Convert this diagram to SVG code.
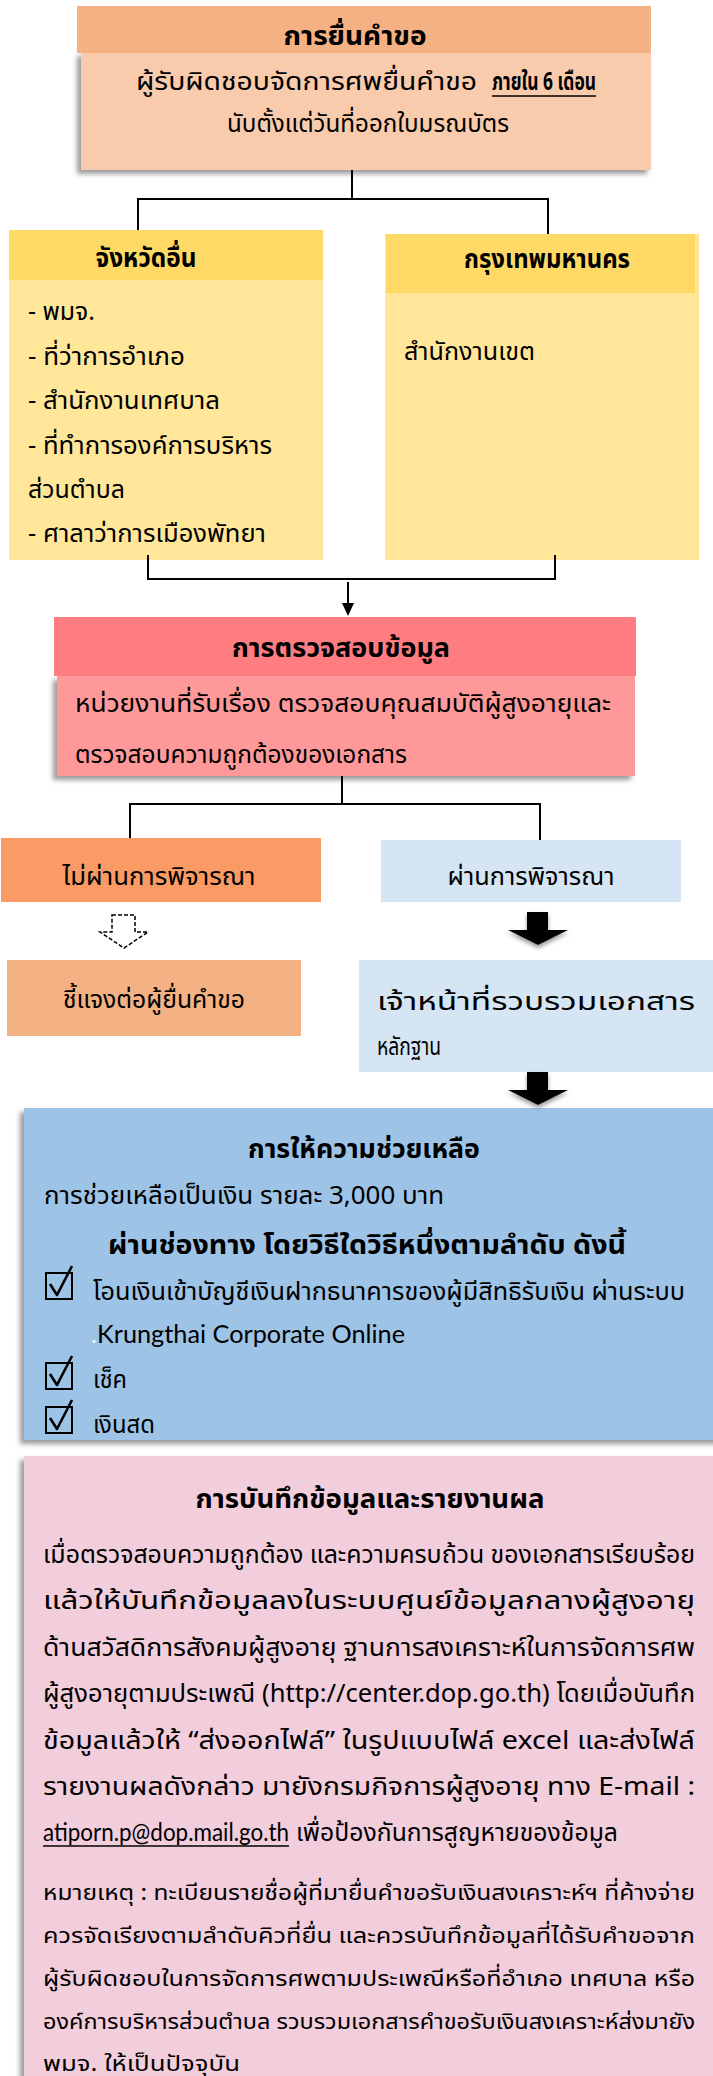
<svg xmlns="http://www.w3.org/2000/svg" width="713" height="2076" viewBox="0 0 713 2076">
<defs>
<style>
text{font-family:"Noto Sans Thai","Noto Sans","DejaVu Sans",sans-serif;fill:#000}
.t{font-size:26px;font-weight:bold}
.r{font-size:25px}
.s{font-size:22px}
.en{font-family:"Lato","Open Sans",sans-serif}
.ln{fill:none;stroke:#000;stroke-width:2}
.cb{fill:none;stroke:#000;stroke-width:2}
.ck{fill:none;stroke:#000;stroke-width:2.6;stroke-linejoin:round}
</style>
<filter id="sh" x="-10%" y="-10%" width="120%" height="125%">
<feDropShadow dx="-4" dy="4" stdDeviation="2.5" flood-color="#6f6f6f" flood-opacity="0.7"/>
</filter>
<filter id="ash" x="-20%" y="-20%" width="140%" height="160%">
<feDropShadow dx="0" dy="3" stdDeviation="2" flood-color="#555" flood-opacity="0.6"/>
</filter>
</defs>

<g id="node-request">
<g filter="url(#sh)">
<rect x="81" y="52" width="570" height="118" fill="#f8cbad"/>
</g>
<rect x="77" y="6" width="574" height="47" fill="#f4b183"/>
<text class="t" x="355" y="45" text-anchor="middle" textLength="143" lengthAdjust="spacingAndGlyphs">การยื่นคำขอ</text>
<text class="r" x="136" y="90" textLength="341" lengthAdjust="spacingAndGlyphs">ผู้รับผิดชอบจัดการศพยื่นคำขอ</text>
<text class="r" x="492" y="90" font-weight="bold" textLength="104" lengthAdjust="spacingAndGlyphs">ภายใน 6 เดือน</text>
<line x1="492" y1="96" x2="596" y2="96" stroke="#000" stroke-width="1.6"/>
<text class="r" x="368" y="132" text-anchor="middle" textLength="282" lengthAdjust="spacingAndGlyphs">นับตั้งแต่วันที่ออกใบมรณบัตร</text>
</g>

<g id="node-province">
<rect x="9" y="230" width="314" height="330" fill="#ffe699"/>
<rect x="9" y="230" width="314" height="50" fill="#ffd966"/>
<text class="t" x="146" y="267" text-anchor="middle" textLength="101" lengthAdjust="spacingAndGlyphs">จังหวัดอื่น</text>
<text class="r" x="28" y="320" textLength="67" lengthAdjust="spacingAndGlyphs">- พมจ.</text>
<text class="r" x="28" y="365" textLength="157" lengthAdjust="spacingAndGlyphs">- ที่ว่าการอำเภอ</text>
<text class="r" x="28" y="409" textLength="192" lengthAdjust="spacingAndGlyphs">- สำนักงานเทศบาล</text>
<text class="r" x="28" y="454" textLength="244" lengthAdjust="spacingAndGlyphs">- ที่ทำการองค์การบริหาร</text>
<text class="r" x="28" y="498" textLength="97" lengthAdjust="spacingAndGlyphs">ส่วนตำบล</text>
<text class="r" x="28" y="542" textLength="238" lengthAdjust="spacingAndGlyphs">- ศาลาว่าการเมืองพัทยา</text>
</g>

<g id="node-bangkok">
<rect x="385" y="234" width="314" height="326" fill="#ffe699"/>
<rect x="386" y="234" width="309" height="59" fill="#ffd966"/>
<text class="t" x="547" y="268" text-anchor="middle" textLength="166" lengthAdjust="spacingAndGlyphs">กรุงเทพมหานคร</text>
<text class="r" x="404" y="360" textLength="131" lengthAdjust="spacingAndGlyphs">สำนักงานเขต</text>
</g>

<g id="node-verify">
<g filter="url(#sh)">
<rect x="57" y="676" width="578" height="100" fill="#ff9999"/>
</g>
<rect x="54" y="617" width="582" height="59" fill="#ff7c80"/>
<text class="t" x="341" y="657" text-anchor="middle" textLength="218" lengthAdjust="spacingAndGlyphs">การตรวจสอบข้อมูล</text>
<text class="r" x="75" y="712" textLength="536" lengthAdjust="spacingAndGlyphs">หน่วยงานที่รับเรื่อง ตรวจสอบคุณสมบัติผู้สูงอายุและ</text>
<text class="r" x="75" y="763" textLength="332" lengthAdjust="spacingAndGlyphs">ตรวจสอบความถูกต้องของเอกสาร</text>
</g>

<g id="node-fail">
<rect x="1" y="838" width="320" height="64" fill="#fa9a64"/>
<text class="r" x="159" y="885" text-anchor="middle" textLength="193" lengthAdjust="spacingAndGlyphs">ไม่ผ่านการพิจารณา</text>
</g>

<g id="node-pass">
<rect x="381" y="840" width="300" height="62" fill="#d5e5f3"/>
<text class="r" x="531" y="885" text-anchor="middle" textLength="167" lengthAdjust="spacingAndGlyphs">ผ่านการพิจารณา</text>
</g>

<g id="node-explain">
<rect x="7" y="960" width="294" height="76" fill="#f4b183"/>
<text class="r" x="154" y="1008" text-anchor="middle" textLength="182" lengthAdjust="spacingAndGlyphs">ชี้แจงต่อผู้ยื่นคำขอ</text>
</g>

<g id="node-collect">
<rect x="359" y="960" width="354" height="112" fill="#d5e5f3"/>
<text class="r" x="377" y="1010" textLength="318" lengthAdjust="spacingAndGlyphs">เจ้าหน้าที่รวบรวมเอกสาร</text>
<text class="r" x="377" y="1055" textLength="64" lengthAdjust="spacingAndGlyphs">หลักฐาน</text>
</g>

<g id="node-assist">
<g filter="url(#sh)">
<rect x="24" y="1108" width="700" height="332" fill="#9dc3e6"/>
</g>
<text class="t" x="364" y="1158" text-anchor="middle" textLength="232" lengthAdjust="spacingAndGlyphs">การให้ความช่วยเหลือ</text>
<text class="r" x="44" y="1204" textLength="400" lengthAdjust="spacingAndGlyphs">การช่วยเหลือเป็นเงิน รายละ 3,000 บาท</text>
<text class="t" x="367" y="1254" text-anchor="middle" textLength="518" lengthAdjust="spacingAndGlyphs">ผ่านช่องทาง โดยวิธีใดวิธีหนึ่งตามลำดับ  ดังนี้</text>
<rect class="cb" x="46" y="1273" width="26" height="26"/>
<path class="ck" d="M50,1284 L57,1295 L72,1266"/>
<text class="r" x="93" y="1300" textLength="592" lengthAdjust="spacingAndGlyphs">โอนเงินเข้าบัญชีเงินฝากธนาคารของผู้มีสิทธิรับเงิน ผ่านระบบ</text>
<text class="r en" x="91" y="1343" textLength="314" lengthAdjust="spacingAndGlyphs"><tspan fill="#e8f0f8">.</tspan>Krungthai Corporate Online</text>
<rect class="cb" x="46" y="1363" width="26" height="26"/>
<path class="ck" d="M50,1374 L57,1385 L72,1356"/>
<text class="r" x="93" y="1388" textLength="34" lengthAdjust="spacingAndGlyphs">เช็ค</text>
<rect class="cb" x="46" y="1407" width="26" height="26"/>
<path class="ck" d="M50,1418 L57,1429 L72,1400"/>
<text class="r" x="93" y="1433" textLength="62" lengthAdjust="spacingAndGlyphs">เงินสด</text>
</g>

<g id="node-record">
<g filter="url(#sh)">
<rect x="24" y="1456" width="700" height="640" fill="#f2cddc"/>
</g>
<text class="t" x="370" y="1508" text-anchor="middle" textLength="349" lengthAdjust="spacingAndGlyphs">การบันทึกข้อมูลและรายงานผล</text>
<text class="r" x="43" y="1563" textLength="652" lengthAdjust="spacingAndGlyphs">เมื่อตรวจสอบความถูกต้อง และความครบถ้วน ของเอกสารเรียบร้อย</text>
<text class="r" x="43" y="1609" textLength="652" lengthAdjust="spacingAndGlyphs">แล้วให้บันทึกข้อมูลลงในระบบศูนย์ข้อมูลกลางผู้สูงอายุ</text>
<text class="r" x="43" y="1656" textLength="652" lengthAdjust="spacingAndGlyphs">ด้านสวัสดิการสังคมผู้สูงอายุ ฐานการสงเคราะห์ในการจัดการศพ</text>
<text class="r" x="43" y="1702" textLength="652" lengthAdjust="spacingAndGlyphs">ผู้สูงอายุตามประเพณี (http://center.dop.go.th) โดยเมื่อบันทึก</text>
<text class="r" x="43" y="1749" textLength="652" lengthAdjust="spacingAndGlyphs">ข้อมูลแล้วให้ “ส่งออกไฟล์”  ในรูปแบบไฟล์ excel และส่งไฟล์</text>
<text class="r" x="43" y="1795" textLength="652" lengthAdjust="spacingAndGlyphs">รายงานผลดังกล่าว มายังกรมกิจการผู้สูงอายุ ทาง E-mail :</text>
<text class="r en" x="43" y="1841" textLength="246" lengthAdjust="spacingAndGlyphs">atiporn.p@dop.mail.go.th</text>
<line x1="43" y1="1846" x2="289" y2="1846" stroke="#000" stroke-width="1.4"/>
<text class="r" x="296" y="1841" textLength="322" lengthAdjust="spacingAndGlyphs">เพื่อป้องกันการสูญหายของข้อมูล</text>
<text class="s" x="43" y="1900" textLength="652" lengthAdjust="spacingAndGlyphs">หมายเหตุ : ทะเบียนรายชื่อผู้ที่มายื่นคำขอรับเงินสงเคราะห์ฯ ที่ค้างจ่าย</text>
<text class="s" x="43" y="1943" textLength="652" lengthAdjust="spacingAndGlyphs">ควรจัดเรียงตามลำดับคิวที่ยื่น และควรบันทึกข้อมูลที่ได้รับคำขอจาก</text>
<text class="s" x="43" y="1986" textLength="652" lengthAdjust="spacingAndGlyphs">ผู้รับผิดชอบในการจัดการศพตามประเพณีหรือที่อำเภอ เทศบาล หรือ</text>
<text class="s" x="43" y="2029" textLength="652" lengthAdjust="spacingAndGlyphs">องค์การบริหารส่วนตำบล รวบรวมเอกสารคำขอรับเงินสงเคราะห์ส่งมายัง</text>
<text class="s" x="43" y="2071" textLength="197" lengthAdjust="spacingAndGlyphs">พมจ. ให้เป็นปัจจุบัน</text>
</g>

<g id="connectors">
<path class="ln" d="M352,170 V199 M137,199 H549 M138,199 V230 M548,199 V234"/>
<path class="ln" d="M148,555 V579 H555 V555"/>
<path class="ln" d="M348,582 V605"/>
<path fill="#000" d="M342,603 L354,603 L348,616 z"/>
<path class="ln" d="M342,776 V804 M129,804 H541 M130,804 V838 M540,804 V840"/>
<path d="M112,915 H135 V932 H148 L124,948 L100,932 H112 Z" fill="#fff" stroke="#000" stroke-width="1.5" stroke-dasharray="4,2"/>
<path filter="url(#ash)" d="M527,912 H548 V930 H568 L538,945 L508,930 H527 Z" fill="#000"/>
<path filter="url(#ash)" d="M527,1072 H548 V1090 H568 L538,1105 L508,1090 H527 Z" fill="#000"/>
</g>
</svg>
